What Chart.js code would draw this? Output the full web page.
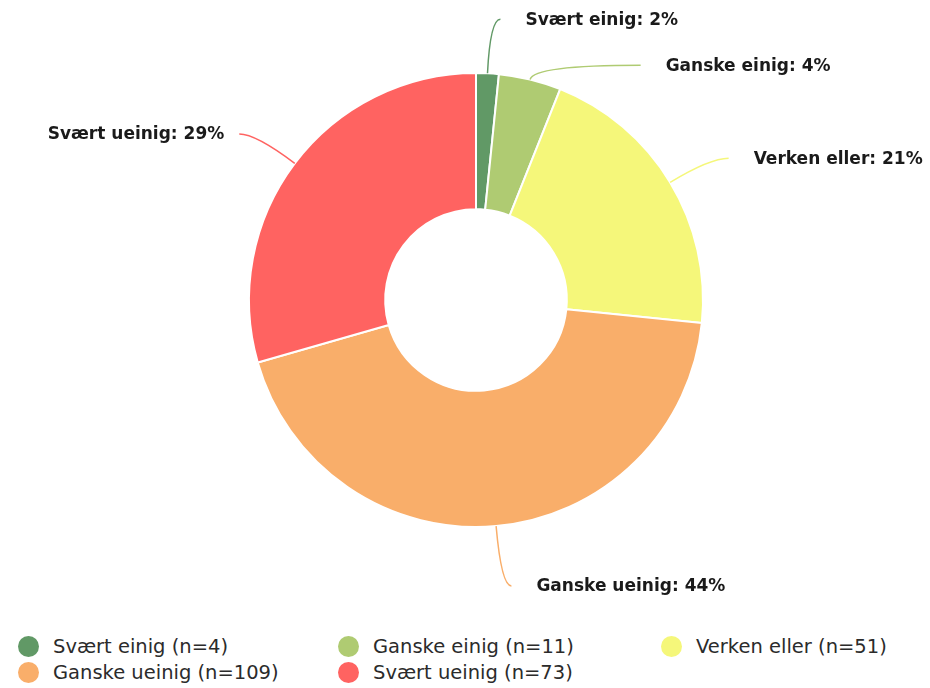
<!DOCTYPE html>
<html>
<head>
<meta charset="utf-8">
<script src="https://cdn.jsdelivr.net/npm/chart.js@4"></script>
<style>
  html, body { margin:0; padding:0; background:#fff; }
  #wrap { width:930px; height:688px; position:relative; }
  #pie-holder { width:930px; height:620px; position:relative; }
  #legend {
    position:absolute; left:18px; top:635px;
    display:grid; grid-template-columns: 320px 323px 260px; row-gap:3px;
    font-family:"DejaVu Sans", sans-serif; font-size:19.5px; color:#2b2b2b;
  }
  #legend .item { display:flex; align-items:center; height:23px; white-space:nowrap; }
  #legend .dot { width:21px; height:21px; border-radius:50%; margin-right:14px; flex:none; }
</style>
</head>
<body>
<div id="wrap">
  <div id="pie-holder"><canvas id="pie"></canvas></div>
  <div id="legend"></div>
</div>
<script>
/* ---------- Data ---------- */
const categories = ['Svært einig', 'Ganske einig', 'Verken eller', 'Ganske ueinig', 'Svært ueinig'];
const counts = [4, 11, 51, 109, 73];
const sliceColors = ['#619966', '#afcb72', '#f5f77a', '#f9ae6a', '#ff6361'];

const total = counts.reduce((a, b) => a + b, 0);
const pct = counts.map(c => Math.round(c / total * 100));

/* ---------- Outside labels with curved connectors ---------- */
const outsideLabels = {
  id: 'outsideLabels',
  afterDatasetsDraw(chart){
    const ctx = chart.ctx;
    const arcs = chart.getDatasetMeta(0).data;
    const labelDist = 54;   // label ring sits this far outside the slices
    const minGap = 46;      // vertical spacing between labels on one side

    const items = arcs.map((arc, i) => {
      const p = arc.getProps(['x','y','startAngle','endAngle','outerRadius'], true);
      const mid = (p.startAngle + p.endAngle) / 2;
      const ring = p.outerRadius + labelDist;
      const s = Math.sin(mid);
      // lower labels hang a bit further down, side labels drop slightly
      const drop = s > 0 ? 6 : 8 * (1 - Math.abs(s));
      return {
        i, mid, cx: p.x, cy: p.y, ring,
        ax: p.x + Math.cos(mid) * p.outerRadius,
        ay: p.y + s * p.outerRadius,
        right: Math.cos(mid) >= 0,
        ly: p.y + s * ring + drop
      };
    });

    // push overlapping labels down on each side
    [true, false].forEach(side => {
      const list = items.filter(it => it.right === side).sort((a, b) => a.ly - b.ly);
      for (let k = 1; k < list.length; k++){
        if (list[k].ly - list[k-1].ly < minGap) list[k].ly = list[k-1].ly + minGap;
      }
    });

    ctx.save();
    items.forEach(it => {
      const ey = it.ly;
      const dy = ey - it.cy;
      const ringDx = Math.sqrt(Math.max(0, it.ring * it.ring - dy * dy)) + 10;

      // control point: follow the radial direction until the label's height
      const dirx = Math.cos(it.mid), diry = Math.sin(it.mid);
      const qx = Math.abs(diry) > 0.05 ? it.ax + dirx * ((ey - it.ay) / diry) : it.ax;
      const ex = it.right
        ? Math.max(it.cx + ringDx, qx + 10)
        : Math.min(it.cx - ringDx, qx - 10);

      ctx.beginPath();
      ctx.moveTo(it.ax, it.ay);
      ctx.quadraticCurveTo(qx, ey, ex, ey);
      ctx.strokeStyle = sliceColors[it.i];
      ctx.lineWidth = 1.5;
      ctx.stroke();

      ctx.font = 'bold 17px "DejaVu Sans", sans-serif';
      ctx.fillStyle = '#1a1a1a';
      ctx.textBaseline = 'middle';
      const text = categories[it.i] + ': ' + pct[it.i] + '%';
      if (it.right){
        ctx.textAlign = 'left';
        ctx.fillText(text, ex + 25, ey + 1);
      } else {
        ctx.textAlign = 'right';
        ctx.fillText(text, ex - 15, ey + 1);
      }
    });
    ctx.restore();
  }
};

new Chart(document.getElementById('pie'), {
  type: 'doughnut',
  data: {
    labels: categories,
    datasets: [{
      data: counts,
      backgroundColor: sliceColors,
      borderColor: '#ffffff',
      borderWidth: 2,
      hoverOffset: 0
    }]
  },
  options: {
    responsive: true,
    maintainAspectRatio: false,
    animation: false,
    cutout: '40%',
    layout: { padding: { top: 72, bottom: 92, left: 22, right: 0 } },
    plugins: {
      legend: { display: false },
      tooltip: { enabled: false }
    }
  },
  plugins: [outsideLabels]
});

/* ---------- Legend ---------- */
document.getElementById('legend').innerHTML = categories.map((c, i) =>
  `<div class="item"><span class="dot" style="background:${sliceColors[i]}"></span>${c} (n=${counts[i]})</div>`
).join('');
</script>
</body>
</html>
